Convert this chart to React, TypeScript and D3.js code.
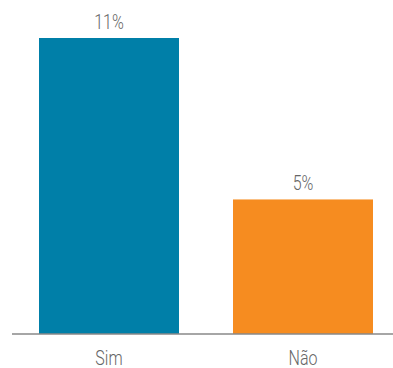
import React from "react";
import * as d3 from "d3";

const categories = ["Sim", "Não"];
const values = [11, 5];
const valueLabels = ["11%", "5%"];
const colors = ["#007fa8", "#f68c20"];

export default function App() {
  const W = 393, H = 368;
  const x = d3.scaleBand<string>().domain(categories).range([12, 400]).paddingInner(54 / 194).paddingOuter(27 / 194);
  const y = d3.scaleLinear().domain([0, 11]).range([334, 38]);
  const font = "'Roboto', sans-serif";
  const sx = 0.8;
  const label = (cx: number, cy: number, t: string) => (
    <text transform={`translate(${cx},${cy}) scale(${sx},1)`} textAnchor="middle" fontFamily={font} fontSize={20} fontWeight={300} fill="#666">{t}</text>
  );
  return (
    <svg width={W} height={H} style={{ position: "absolute", left: 0, top: 0 }}>
      {categories.map((c, i) => (
        <g key={c}>
          <rect x={x(c)} y={y(values[i])} width={x.bandwidth()} height={y(0) - y(values[i])} fill={colors[i]} />
          {label(x(c)! + x.bandwidth() / 2, y(values[i]) - 9, valueLabels[i])}
          {label(x(c)! + x.bandwidth() / 2, 365, c)}
        </g>
      ))}
      <line x1={12} x2={393} y1={334} y2={334} stroke="#888" strokeWidth={1.5} />
    </svg>
  );
}
